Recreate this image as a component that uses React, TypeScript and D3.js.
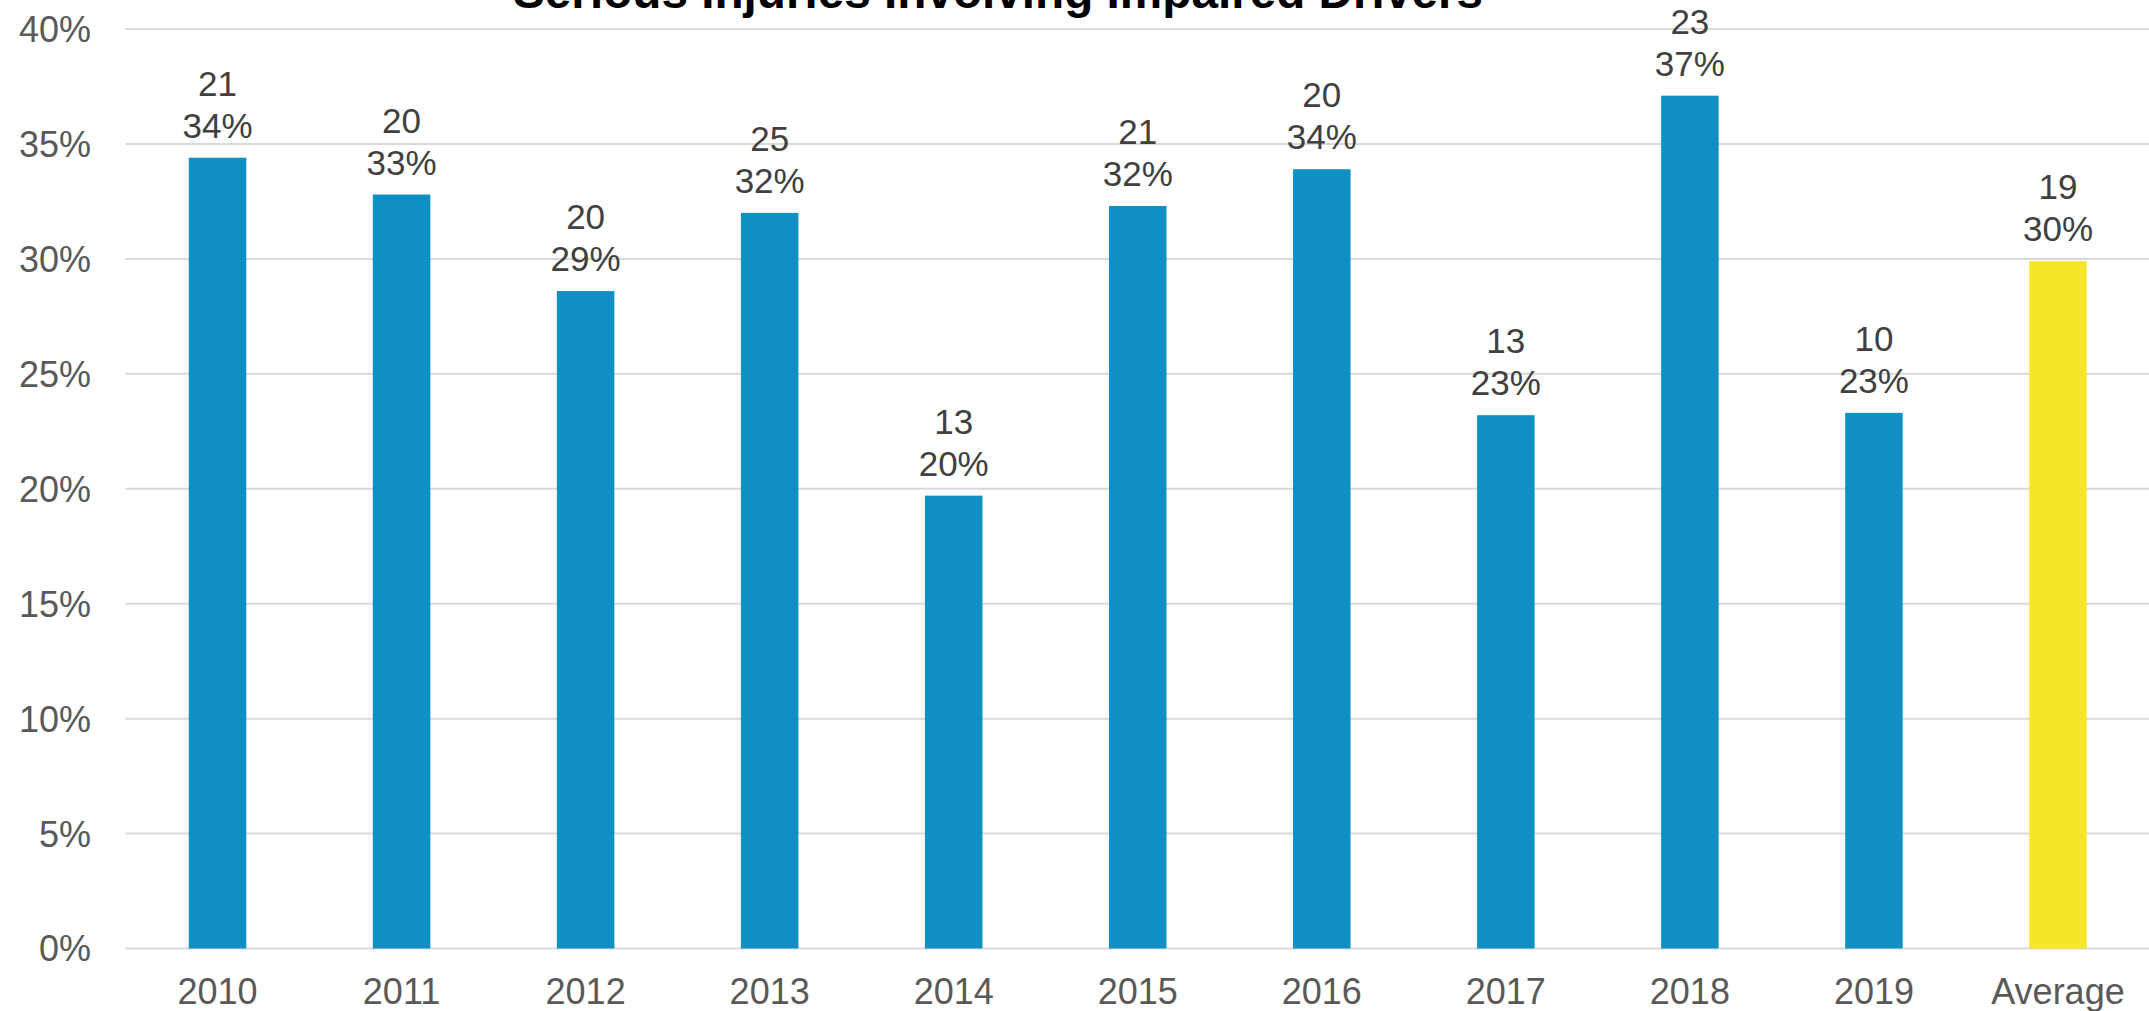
import React from "react";
import * as d3 from "d3";

const categories = ["2010", "2011", "2012", "2013", "2014", "2015", "2016", "2017", "2018", "2019", "Average"];
const shareValues = [34.4, 32.8, 28.6, 32.0, 19.7, 32.3, 33.9, 23.2, 37.1, 23.3, 29.9];
const countValues = [21, 20, 20, 25, 13, 21, 20, 13, 23, 10, 19];
const yTicks = [0, 5, 10, 15, 20, 25, 30, 35, 40];
const titleText = "Serious Injuries Involving Impaired Drivers";

const W = 2149;
const H = 1011;
const FONT = "'Liberation Sans', Arial, Helvetica, sans-serif";

export default function App() {
  const x = d3.scaleBand<string>().domain(categories).range([125.5, 2150]).padding(0);
  const y = d3.scaleLinear().domain([0, 40]).range([948.5, 29]);
  const barW = x.bandwidth() * 0.3125;

  return (
    <svg
      width={W}
      height={H}
      style={{ position: "absolute", left: 0, top: 0, background: "#fff" }}
      fontFamily={FONT}
    >
      {yTicks.map((t) => (
        <g key={t}>
          <line x1={125.5} x2={W} y1={y(t)} y2={y(t)} stroke="#d9d9d9" strokeWidth={2} />
          <text x={91} y={y(t)} dy="0.36em" textAnchor="end" fontSize={36} fill="#595959">
            {t}%
          </text>
        </g>
      ))}
      {categories.map((c, i) => {
        const cx = (x(c) as number) + x.bandwidth() / 2;
        const top = y(shareValues[i]);
        return (
          <g key={c}>
            <rect
              x={cx - barW / 2}
              y={top}
              width={barW}
              height={y(0) - top}
              fill={c === "Average" ? "#F5E62A" : "#0F8FC4"}
            />
            <text x={cx} y={top - 62} textAnchor="middle" fontSize={35} fill="#404040">
              {countValues[i]}
            </text>
            <text x={cx} y={top - 20} textAnchor="middle" fontSize={35} fill="#404040">
              {Math.round(shareValues[i])}%
            </text>
            <text x={cx} y={1004} textAnchor="middle" fontSize={36} fill="#595959">
              {c}
            </text>
          </g>
        );
      })}
      <text x={998} y={8} textAnchor="middle" fontSize={48} fontWeight="bold" fill="#000" textLength={970} lengthAdjust="spacingAndGlyphs">
        {titleText}
      </text>
    </svg>
  );
}
